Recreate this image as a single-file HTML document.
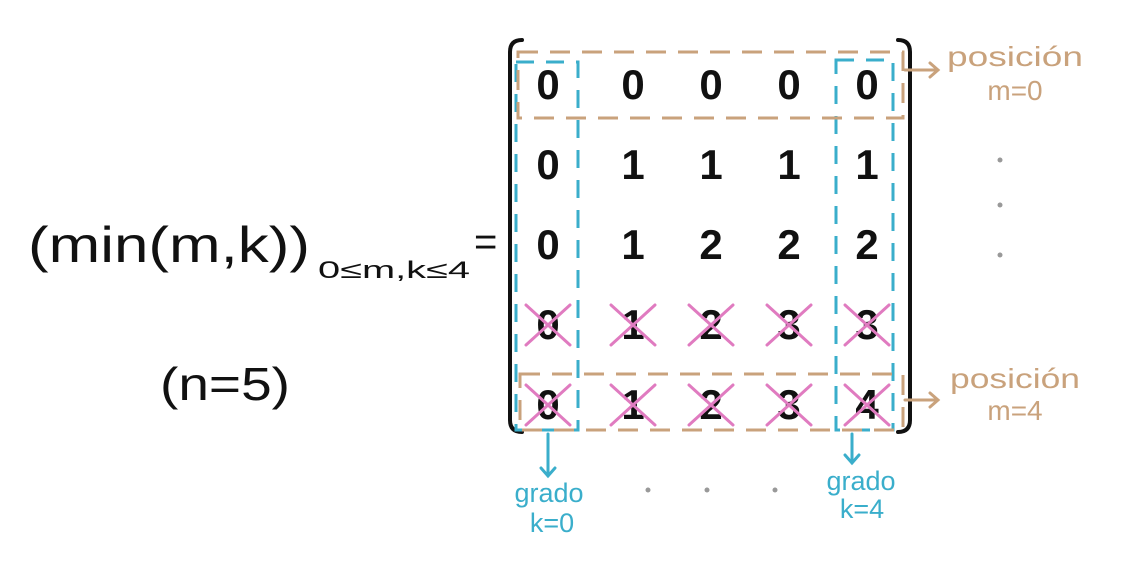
<!DOCTYPE html>
<html><head><meta charset="utf-8"><style>
html,body{margin:0;padding:0;background:#fff;width:1125px;height:569px;overflow:hidden}
svg{display:block}
text{font-family:"Liberation Sans",sans-serif}
</style></head><body>
<svg id="s" width="1125" height="569" viewBox="0 0 1125 569">
<g>
<text x="28" y="262" font-size="50" fill="#111" textLength="282" lengthAdjust="spacingAndGlyphs">(min(m,k))</text>
<text x="318" y="278" font-size="24" fill="#111" textLength="152" lengthAdjust="spacingAndGlyphs">0≤m,k≤4</text>
<text x="474" y="255" font-size="40" fill="#111">=</text>
<text x="160" y="400" font-size="46" fill="#111" textLength="130" lengthAdjust="spacingAndGlyphs">(n=5)</text>
</g>
<g fill="none" stroke="#111" stroke-width="4" stroke-linecap="round">
<path d="M522 40 Q510 40 510 52 L510 420 Q510 432 522 432"/>
<path d="M898 40 Q910 40 910 52 L910 420 Q910 432 898 432"/>
</g>
<g id="cells"></g>
<g fill="none" stroke="#3aaecb" stroke-width="3" stroke-dasharray="18 12">
<rect x="516" y="62" width="62" height="368"/>
<rect x="836" y="60" width="57" height="370"/>
</g>
<g fill="none" stroke="#c9a27c" stroke-width="3" stroke-dasharray="20 12">
<rect x="518" y="52" width="385" height="66"/>
<rect x="520" y="374" width="383" height="56"/>
</g>
<g stroke="#c9a27c" stroke-width="3" fill="none" stroke-linecap="round">
<path d="M905 70 L938 70 M930 63 L938 70 L930 77"/>
<path d="M905 400 L938 400 M930 393 L938 400 L930 407"/>
</g>
<g fill="#c9a27c" font-size="28" text-anchor="middle">
<text x="1015" y="66" textLength="136" lengthAdjust="spacingAndGlyphs">posición</text>
<text x="1015" y="100">m=0</text>
<text x="1015" y="388" textLength="130" lengthAdjust="spacingAndGlyphs">posición</text>
<text x="1015" y="420">m=4</text>
</g>
<g fill="#999">
<circle cx="1000" cy="160" r="2.5"/><circle cx="1000" cy="205" r="2.5"/><circle cx="1000" cy="255" r="2.5"/>
<circle cx="648" cy="490" r="2.5"/><circle cx="707" cy="490" r="2.5"/><circle cx="775" cy="490" r="2.5"/>
</g>
<g stroke="#3aaecb" stroke-width="3" fill="none" stroke-linecap="round">
<path d="M548 434 L548 476 M541 468 L548 476 L555 468"/>
<path d="M852 434 L852 463 M845 455 L852 463 L859 455"/>
</g>
<g fill="#3aaecb" font-size="27" text-anchor="middle">
<text x="549" y="502">grado</text>
<text x="552" y="532">k=0</text>
<text x="861" y="490">grado</text>
<text x="862" y="518">k=4</text>
</g>
</svg>
<script>
const rowsM=[0,1,2,3,4];
const colsK=[0,1,2,3,4];
const values=[[0,0,0,0,0],[0,1,1,1,1],[0,1,2,2,2],[0,1,2,3,3],[0,1,2,3,4]];
const crossedRows=[3,4];
const NS="http://www.w3.org/2000/svg";
const g=document.getElementById('cells');
function xCol(k){return k===0?548:555+k*78;}
function yRow(m){return 99+m*80;}
rowsM.forEach((m,i)=>{colsK.forEach((k,j)=>{
 const t=document.createElementNS(NS,'text');
 t.setAttribute('x',xCol(k));t.setAttribute('y',yRow(m));
 t.setAttribute('text-anchor','middle');t.setAttribute('font-size','42');t.setAttribute('font-weight','bold');t.setAttribute('fill','#111');
 t.textContent=values[i][j];
 
 
 g.appendChild(t);
 if(crossedRows.includes(m)){
  const p=document.createElementNS(NS,'path');
  const cx=xCol(k),cy=yRow(m)-14;
  p.setAttribute('d',`M${cx-22} ${cy-20} L${cx+22} ${cy+20} M${cx+22} ${cy-20} L${cx-22} ${cy+20}`);
  p.setAttribute('stroke','#e07bc0');p.setAttribute('stroke-width','3');p.setAttribute('fill','none');p.setAttribute('stroke-linecap','round');
  
  
  g.appendChild(p);
 }
});});
</script>
</body></html>
